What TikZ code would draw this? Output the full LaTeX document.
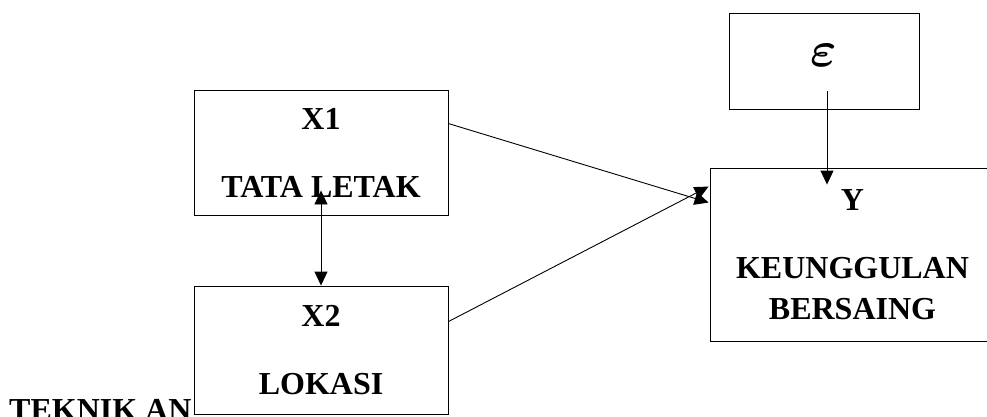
\documentclass[tikz,border=0pt]{standalone}
\usepackage{fontspec}
\setmainfont{Liberation Serif}
\usepackage{amsmath}
\usetikzlibrary{arrows.meta,calc}

\begin{document}
\begin{tikzpicture}[x=1pt,y=-1pt,
	varbox/.style={draw,line width=0.9pt,inner sep=0pt,align=center,font=\fontsize{32}{41}\selectfont\bfseries},
	tip/.style={line width=0.9pt,-{Triangle[length=14pt,width=13pt]}}]
\useasboundingbox (0,0) rectangle (987,416);
\node[varbox,minimum width=254pt,minimum height=125pt] (X1) at (321,152.5) {X1\\[27pt]TATA LETAK};
\node[varbox,minimum width=254pt,minimum height=128pt] (X2) at (321,350) {X2\\[27pt]LOKASI};
\node[varbox,minimum width=285pt,minimum height=173pt] (Y) at (852.5,254.5) {Y\\[27pt]KEUNGGULAN\\BERSAING};
\node[varbox,minimum width=190pt,minimum height=96pt,font=\normalsize] (E) at (824,61) {\raisebox{-5pt}[0pt][0pt]{\scalebox{5}{$\boldsymbol{\varepsilon}$}}};
\node[anchor=base west,inner sep=0pt,font=\fontsize{32}{41}\selectfont\bfseries] (teknik) at (9,420) {TEKNIK AN};
\draw[tip] ($(X1.north east)+(0,34)$) -- ($(Y.north west)+(-1,35)$);
\draw[tip] ($(X2.north east)+(0,36)$) -- ($(Y.north west)+(-1,19)$);
\draw[tip] ($(E.south)+(3,-18)$) -- ($(E.south |- Y.north)+(3,17)$);
\draw[line width=0.9pt,{Triangle[length=14pt,width=13pt]}-{Triangle[length=14pt,width=13pt]}] ($(X1.south)+(0,-25)$) -- (X2.north);
\end{tikzpicture}
\end{document}
